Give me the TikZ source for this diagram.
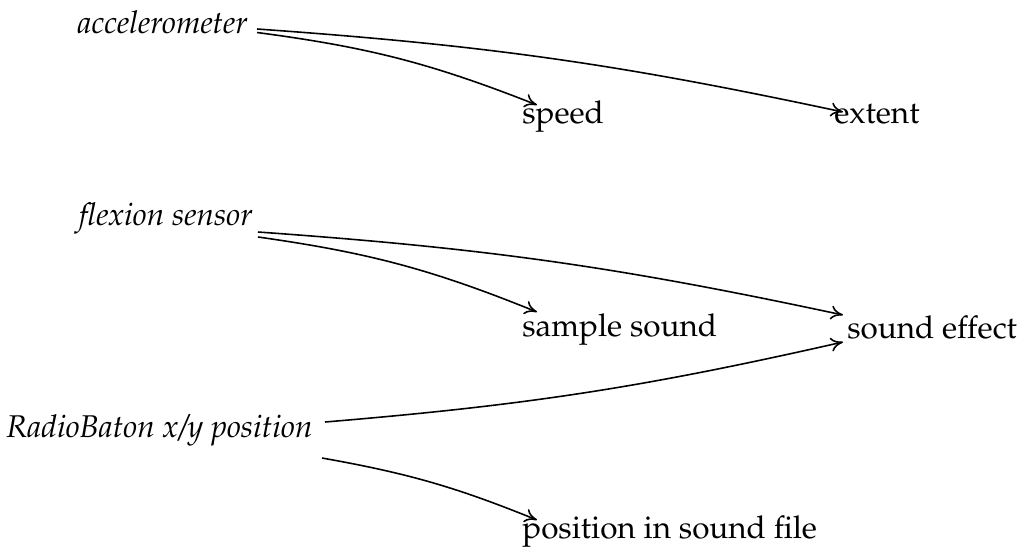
\documentclass[tikz,border=0pt]{standalone}
\usepackage[T1]{fontenc}
\usepackage{mathpazo}
\usetikzlibrary{arrows.meta,calc}
\begin{document}
\begin{tikzpicture}[x=0.02cm,y=-0.02cm,
  label/.style={inner sep=0pt,font=\fontsize{17.9}{21}\selectfont},
  sensor/.style={label,font=\fontsize{17.9}{21}\selectfont\itshape},
  link/.style={line width=0.9pt,-{To[length=7pt,width=8pt]}}]
\useasboundingbox (0,0) rectangle (1021,552);

% inputs
\node[sensor,anchor=base east] (acc)   at (248,33)  {accelerometer};
\node[sensor,anchor=base east] (flex)  at (253,225) {flexion sensor};
\node[sensor,anchor=base east] (radio) at (313,437) {RadioBaton x/y position};

% outputs
\node[label,anchor=base west] (speed)  at (522,123) {speed};
\node[label,anchor=base west] (extent) at (834,123) {extent};
\node[label,anchor=base west] (sample) at (522,336) {sample sound};
\node[label,anchor=base west] (effect) at (847,338) {sound effect};
\node[label,anchor=base west] (pos)    at (522,538) {position in sound file};

% mappings
\draw[link] ($(acc.base east)+(9,-4)$) to[bend left=4] ($(extent.base west)+(9,-11)$);
\draw[link] ($(acc.base east)+(9,-0.5)$) to[bend left=7] ($(speed.base west)+(15,-18)$);
\draw[link] ($(flex.base east)+(5,7)$) to[bend left=4] ($(effect.base west)+(-4,-23)$);
\draw[link] ($(flex.base east)+(5,12)$) to[bend left=7] ($(sample.base west)+(15,-24)$);
\draw[link] ($(radio.base east)+(12,-15)$) to[bend right=4] ($(effect.base west)+(-4,4)$);
\draw[link] ($(radio.base east)+(9,21)$) to[bend left=6] ($(pos.base west)+(15,-18)$);
\end{tikzpicture}
\end{document}
